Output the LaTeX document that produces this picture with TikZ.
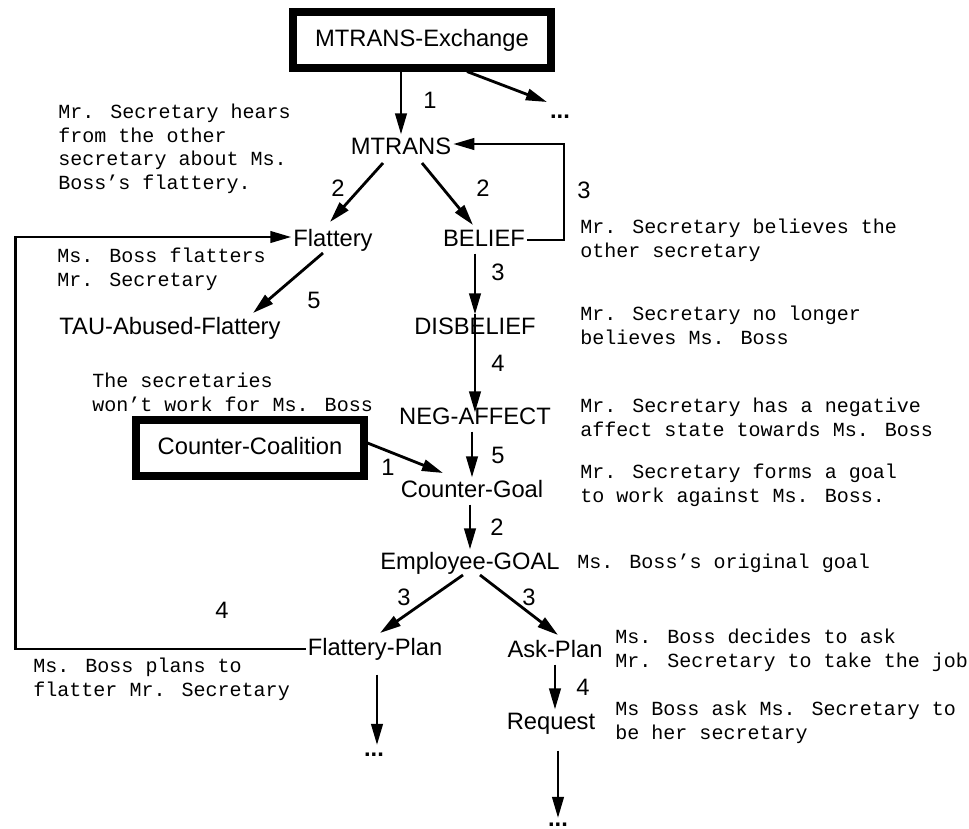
\documentclass[tikz,border=0pt]{standalone}
\usepackage{fontspec}
\setmainfont{Liberation Sans}
\newfontfamily\notefont{Liberation Mono}
\usetikzlibrary{arrows.meta}
\tikzset{lbl/.style={inner sep=1pt,text height=10pt,text depth=3pt,font=\fontsize{13.5}{16}\selectfont},
	 frame/.style={lbl,draw,line width=4pt,minimum height=1.12cm},
	 note/.style={align=left,inner sep=0pt,anchor=north west,font=\notefont\fontsize{11.4}{13.4}\selectfont},
	 num/.style={inner sep=0pt,font=\fontsize{13.5}{16}\selectfont},
	 dots/.style={inner sep=0pt,anchor=base,font=\bfseries\fontsize{13.5}{16}\selectfont},
	 arr/.style={line width=1.6pt,-{Triangle[length=12pt,width=6.5pt]}}
	 }

\begin{document}
\begin{tikzpicture}[x=0.2mm,y=-0.2mm] % MTRANS exchange and counter coalition
	\useasboundingbox (0,0) rectangle (969,829);
	\node[frame,minimum width=5.16cm] (ex) at (422,40) {MTRANS-Exchange};
	\node[lbl] (mt) at (401,148) {MTRANS};
	\node[lbl] (fl) at (333,240) {Flattery};
	\node[lbl] (bel) at (484,240) {BELIEF};
	\node[lbl] (tau) at (170,328) {TAU-Abused-Flattery};
	\node[lbl] (dis) at (475,328) {DISBELIEF};
	\node[lbl] (neg) at (475,418) {NEG-AFFECT};
	\node[frame,minimum width=4.56cm] (cc) at (250,448) {Counter-Coalition};
	\node[lbl] (cg) at (472,491) {Counter-Goal};
	\node[lbl] (eg) at (470,563) {Employee-GOAL};
	\node[lbl] (fp) at (375,649) {Flattery-Plan};
	\node[lbl] (ap) at (555,651) {Ask-Plan};
	\node[lbl] (rq) at (551,723) {Request};
	\node[dots] (d1) at (560,118) {...};
	\node[dots] (d2) at (374,756) {...};
	\node[dots] (d3) at (558,826) {...};
	% numbers on the links
	\node[num] (n1) at (430,100) {1};
	\node[num] (n2) at (338,188) {2};
	\node[num] (n3) at (483,188) {2};
	\node[num] (n4) at (584,190) {3};
	\node[num] (n5) at (498,272) {3};
	\node[num] (n6) at (314,300) {5};
	\node[num] (n7) at (498,363) {4};
	\node[num] (n8) at (498,455) {5};
	\node[num] (n9) at (388,467) {1};
	\node[num] (n10) at (497,527) {2};
	\node[num] (n11) at (404,597) {3};
	\node[num] (n12) at (529,597) {3};
	\node[num] (n13) at (222,610) {4};
	\node[num] (n14) at (583,687) {4};
	% comments beside the nodes
	\node[note] (t1) at (58,104) {Mr. Secretary hears\\from the other\\secretary about Ms.\\Boss’s flattery.};
	\node[note] (t2) at (57,248) {Ms. Boss flatters\\Mr. Secretary};
	\node[note] (t3) at (92,373) {The secretaries\\won’t work for Ms. Boss};
	\node[note] (t4) at (33,658) {Ms. Boss plans to\\flatter Mr. Secretary};
	\node[note] (t5) at (580,219) {Mr. Secretary believes the\\other secretary};
	\node[note] (t6) at (580,306) {Mr. Secretary no longer\\believes Ms. Boss};
	\node[note] (t7) at (580,398) {Mr. Secretary has a negative\\affect state towards Ms. Boss};
	\node[note] (t8) at (580,464) {Mr. Secretary forms a goal\\to work against Ms. Boss.};
	\node[note] (t9) at (577,554) {Ms. Boss’s original goal};
	\node[note] (t10) at (615,629) {Ms. Boss decides to ask\\Mr. Secretary to take the job};
	\node[note] (t11) at (615,701) {Ms Boss ask Ms. Secretary to\\be her secretary};
	% links
	\draw[arr] (mt.north |- ex.south) -- (mt.north);
	\draw[arr] ([shift={(45,0)}]ex.south) -- ([shift={(-13,-16)}]d1.base);
	\draw[arr] ([shift={(-18,15)}]mt.center) -- ([shift={(-3,-18)}]fl.center);
	\draw[arr] ([shift={(21,15)}]mt.center) -- ([shift={(-11,-15)}]bel.center);
	\draw[arr] (bel.east) -- ++(37,0) |- ([shift={(0,-4)}]mt.east);
	\draw[arr] ([shift={(-10,13)}]fl.center) -- ([shift={(83,-15)}]tau.center);
	\draw[arr] (dis.north |- bel.south) -- (dis.north);
	\draw[arr] (dis.north) -- ([shift={(0,8)}]neg.north);
	\draw[arr] (cg.north |- neg.south) -- (cg.north);
	\draw[arr] ([shift={(0,-5)}]cc.east) -- ([shift={(-29,-18)}]cg.center);
	\draw[arr] (eg.north |- cg.south) -- (eg.north);
	\draw[arr] ([shift={(-7,12)}]eg.center) -- ([shift={(5,-16)}]fp.center);
	\draw[arr] ([shift={(10,12)}]eg.center) -- ([shift={(3,-16)}]ap.center);
	\draw[arr] (fp.west) -- ++(-290,0) |- ([shift={(0,-3)}]fl.west);
	\draw[arr] ([shift={(2,12)}]fp.south) -- ([shift={(3,-11)}]d2.base);
	\draw[arr] (ap.south) -- (ap.south |- rq.north);
	\draw[arr] ([shift={(7,14)}]rq.south) -- ([shift={(0,-8)}]d3.base);
\end{tikzpicture}
\end{document}
